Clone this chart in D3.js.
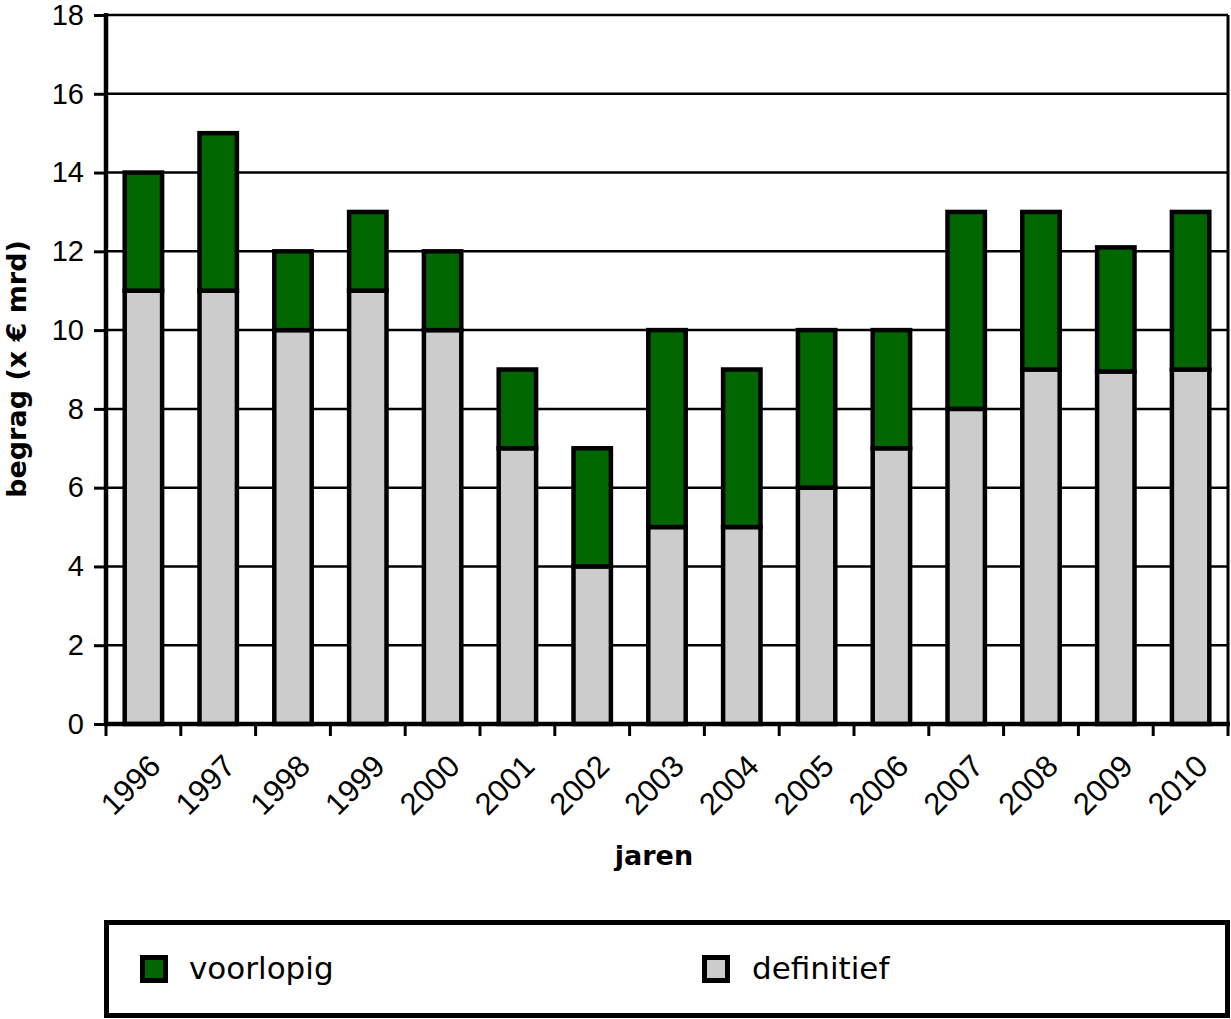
<!DOCTYPE html>
<html><head><meta charset="utf-8">
<script src="https://cdn.jsdelivr.net/npm/d3@7"></script>
<style>body{margin:0;background:#fff}svg{display:block}text{font-family:"Liberation Sans",Arial,sans-serif}</style>
</head><body><svg id="c" width="1231" height="1019"></svg>
<script>
const years = ["1996","1997","1998","1999","2000","2001","2002","2003","2004","2005","2006","2007","2008","2009","2010"];
const definitief = [11,11,10,11,10,7,4,5,5,6,7,8,9,8.95,9];
const totaal = [14,15,12,13,12,9,7,10,9,10,10,13,13,12.1,13];
const voorlopig = totaal.map((t,i)=>t-definitief[i]);
const yTicks = [0,2,4,6,8,10,12,14,16,18];

const svg = d3.select("#c");
const L=106, R=1228, T=15, B=724;
const x = d3.scaleBand().domain(years).range([L,R]).paddingInner(0.5).paddingOuter(0.25);
const y = d3.scaleLinear().domain([0,18]).range([B,T]);

// gridlines
svg.append("g").selectAll("line").data(yTicks.filter(d=>d>0)).join("line")
  .attr("x1",L).attr("x2",R).attr("y1",d=>y(d)).attr("y2",d=>y(d))
  .attr("stroke","#000").attr("stroke-width",2.5);
// right border
svg.append("line").attr("x1",R).attr("x2",R).attr("y1",T).attr("y2",B).attr("stroke","#000").attr("stroke-width",3);

const stack = d3.stack().keys(["definitief","voorlopig"])(years.map((yr,i)=>({year:yr,definitief:definitief[i],voorlopig:voorlopig[i]})));
const colors = {definitief:"#cccccc", voorlopig:"#006600"};
stack.forEach(s=>{
  svg.append("g").selectAll("rect").data(s).join("rect")
    .attr("x",d=>x(d.data.year)).attr("width",x.bandwidth())
    .attr("y",d=>y(d[1])).attr("height",d=>y(d[0])-y(d[1]))
    .attr("fill",colors[s.key]).attr("stroke","#000").attr("stroke-width",4.5);
});

// y axis
const ya = svg.append("g").attr("transform",`translate(${L},0)`)
  .call(d3.axisLeft(y).tickValues(yTicks).tickSize(12).tickPadding(10));
ya.select(".domain").attr("stroke-width",4.5).attr("d",`M0,${T-2}V${B}`);
ya.selectAll(".tick line").attr("stroke-width",3);
ya.selectAll("text").attr("font-size",29).attr("fill","#000");

// x axis
const xa = svg.append("g").attr("transform",`translate(0,${B})`);
xa.append("line").attr("x1",L-2).attr("x2",R+2).attr("y1",0).attr("y2",0).attr("stroke","#000").attr("stroke-width",4.5);
const edges = years.map(d=>x(d)-x.step()*x.paddingInner()/2).concat([R]);
xa.selectAll("line.t").data(edges).join("line").attr("class","t")
  .attr("x1",d=>d).attr("x2",d=>d).attr("y1",0).attr("y2",12).attr("stroke","#000").attr("stroke-width",3);
xa.selectAll("text").data(years).join("text")
  .attr("transform",d=>`translate(${x(d)+x.bandwidth()/2+19},${44}) rotate(-45)`)
  .attr("text-anchor","end").attr("font-size",31).text(d=>d);

// axis titles
svg.append("text").attr("transform",`translate(26,${369}) rotate(-90)`).attr("text-anchor","middle")
  .style("font-family","'DejaVu Sans'").attr("font-size",27).attr("font-weight","bold").text("begrag (x € mrd)");
svg.append("text").attr("x",654).attr("y",865).attr("text-anchor","middle")
  .style("font-family","'DejaVu Sans'").attr("font-size",27).attr("font-weight","bold").text("jaren");

// legend
svg.append("rect").attr("x",106.5).attr("y",922.5).attr("width",1121).attr("height",93).attr("fill","none").attr("stroke","#000").attr("stroke-width",5);
const leg = [{k:"voorlopig",x:142.5,tx:189},{k:"definitief",x:704.5,tx:752}];
leg.forEach(l=>{
  svg.append("rect").attr("x",l.x).attr("y",957.5).attr("width",23).attr("height",23).attr("fill",colors[l.k]).attr("stroke","#000").attr("stroke-width",5);
  svg.append("text").attr("x",l.tx).attr("y",979).style("font-family","'DejaVu Sans'").attr("font-size",31).text(l.k);
});
</script></body></html>
